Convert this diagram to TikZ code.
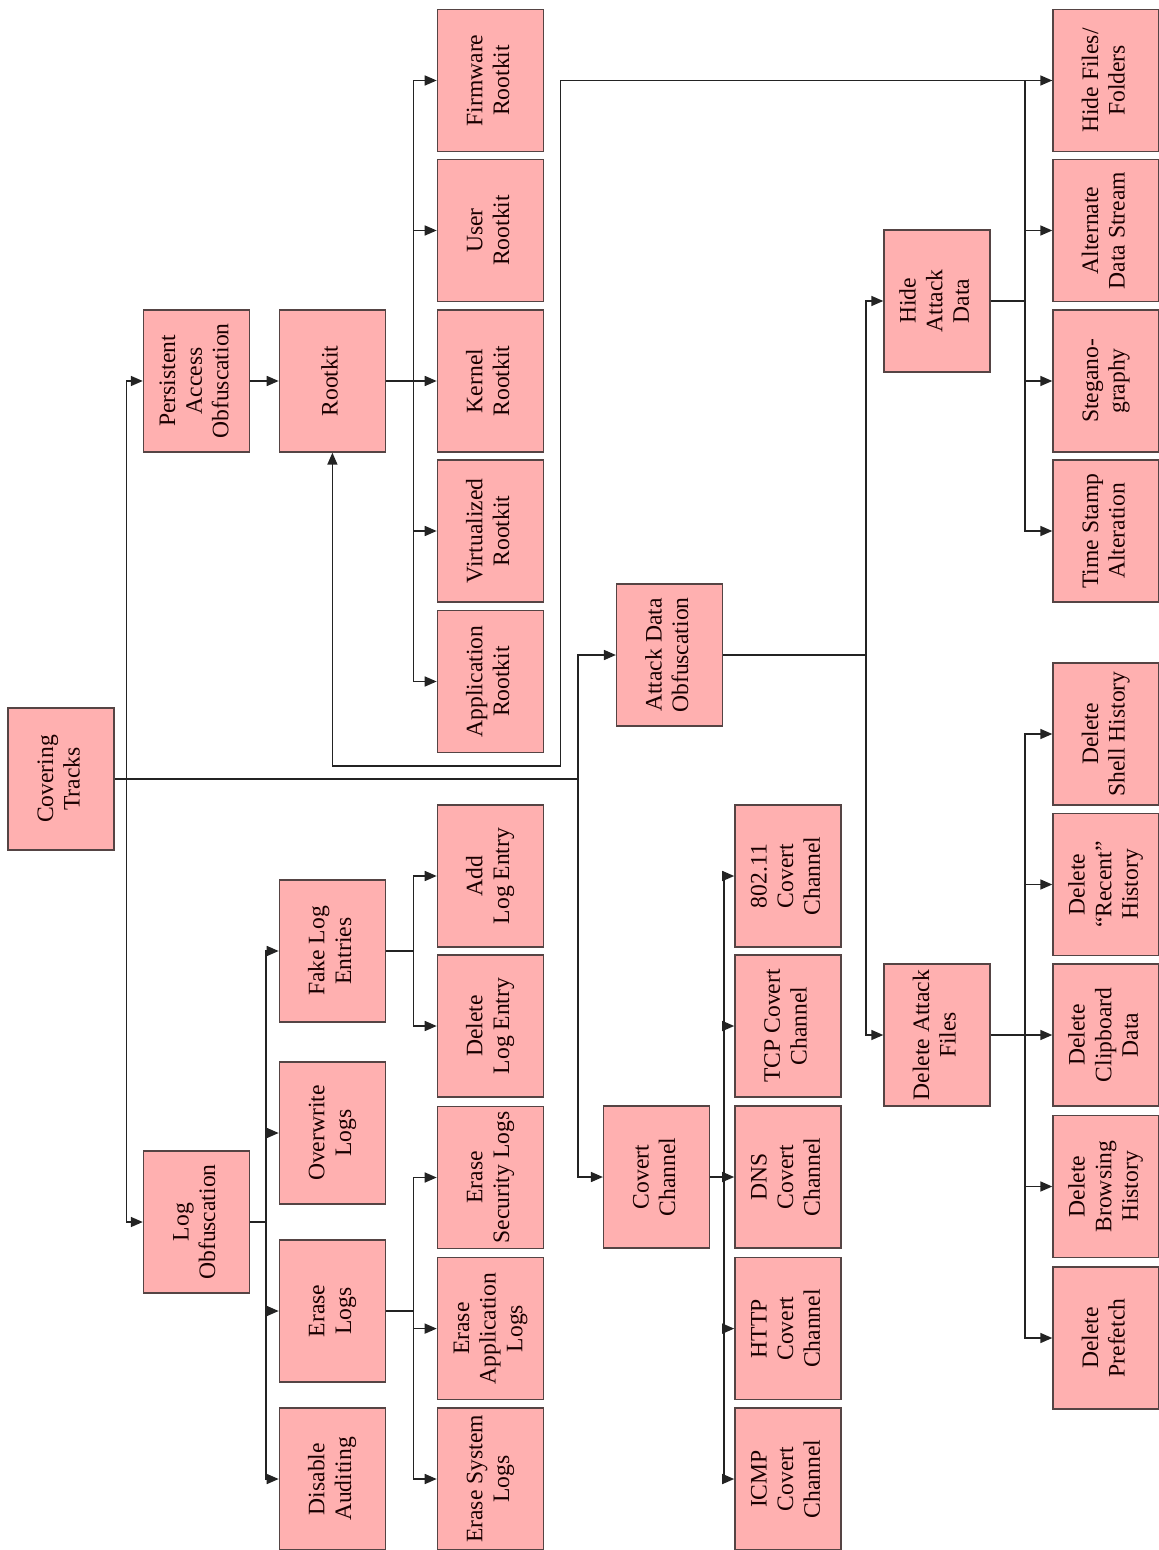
\documentclass[tikz,border=0pt]{standalone}
\usepackage{fontspec}
\setmainfont{Liberation Serif}
\usepackage{graphicx}
\usetikzlibrary{arrows.meta}
\definecolor{boxfill}{RGB}{255,176,176}
\definecolor{boxline}{RGB}{85,68,68}
\definecolor{wire}{RGB}{35,35,35}
\newcommand{\vlabel}[1]{\rotatebox{90}{\begin{tabular}{@{}c@{}}#1\end{tabular}}}

\begin{document}
\begin{tikzpicture}[x=0.5pt, y=-0.5pt,
		every node/.style={font=\fontsize{11.8}{13.3}\selectfont, text=black!90!red},
		box/.style={draw=boxline, fill=boxfill, line width=0.7pt, minimum width=53pt, minimum height=71pt, inner sep=0pt},
		link/.style={draw=wire, line width=0.8pt},
		arr/.style={link, -{Triangle[length=6pt, width=5pt]}}]
		\useasboundingbox (0,0) rectangle (1159,1550);
		% root and first level
		\node[box] (ct) at (61, 779) {\vlabel{Covering\\Tracks}};
		\node[box] (pao) at (196.5, 381) {\vlabel{Persistent\\Access\\Obfuscation}};
		\node[box] (logobf) at (196.5, 1222) {\vlabel{Log\\Obfuscation}};
		\node[box] (ado) at (669.6, 655) {\vlabel{Attack Data\\Obfuscation}};
		\node[box] (cc) at (656.6, 1177) {\vlabel{Covert\\Channel}};
		% rootkit branch
		\node[box] (rootkit) at (332.4, 381) {\vlabel{Rootkit}};
		\node[box] (firmware) at (490.4, 80.5) {\vlabel{Firmware\\Rootkit}};
		\node[box] (user) at (490.4, 230.5) {\vlabel{User\\Rootkit}};
		\node[box] (kernel) at (490.4, 381) {\vlabel{Kernel\\Rootkit}};
		\node[box] (virtual) at (490.4, 531) {\vlabel{Virtualized\\Rootkit}};
		\node[box] (app) at (490.4, 681.5) {\vlabel{Application\\Rootkit}};
		% log branch
		\node[box] (fakelog) at (332.4, 951) {\vlabel{Fake Log\\Entries}};
		\node[box] (overwrite) at (332.4, 1133) {\vlabel{Overwrite\\Logs}};
		\node[box] (eraselogs) at (332.4, 1311) {\vlabel{Erase\\Logs}};
		\node[box] (disable) at (332.4, 1479) {\vlabel{Disable\\Auditing}};
		\node[box] (addlog) at (490.4, 876) {\vlabel{Add\\Log Entry}};
		\node[box] (dellog) at (490.4, 1026) {\vlabel{Delete\\Log Entry}};
		\node[box] (erasesec) at (490.4, 1177.5) {\vlabel{Erase\\Security Logs}};
		\node[box] (eraseapp) at (490.4, 1328.6) {\vlabel{Erase\\Application\\Logs}};
		\node[box] (erasesys) at (490.4, 1479) {\vlabel{Erase System\\Logs}};
		% covert channels
		\node[box] (wifi) at (787.9, 876) {\vlabel{802.11\\Covert\\Channel}};
		\node[box] (tcp) at (787.9, 1026) {\vlabel{TCP Covert\\Channel}};
		\node[box] (dns) at (787.9, 1177) {\vlabel{DNS\\Covert\\Channel}};
		\node[box] (http) at (787.9, 1328.6) {\vlabel{HTTP\\Covert\\Channel}};
		\node[box] (icmp) at (787.9, 1479) {\vlabel{ICMP\\Covert\\Channel}};
		% attack data branch
		\node[box] (had) at (937, 301) {\vlabel{Hide\\Attack\\Data}};
		\node[box] (daf) at (937, 1035) {\vlabel{Delete Attack\\Files}};
		\node[box] (hidefiles) at (1106, 80.5) {\vlabel{Hide Files/\\Folders}};
		\node[box] (ads) at (1106, 230.5) {\vlabel{Alternate\\Data Stream}};
		\node[box] (stego) at (1106, 381) {\vlabel{Stegano-\\graphy}};
		\node[box] (timestamp) at (1106, 531) {\vlabel{Time Stamp\\Alteration}};
		\node[box] (shell) at (1106, 734) {\vlabel{Delete\\Shell History}};
		\node[box] (recent) at (1106, 884.5) {\vlabel{Delete\\``Recent''\\History}};
		\node[box] (clip) at (1106, 1035) {\vlabel{Delete\\Clipboard\\Data}};
		\node[box] (browse) at (1106, 1186.5) {\vlabel{Delete\\Browsing\\History}};
		\node[box] (prefetch) at (1106, 1338) {\vlabel{Delete\\Prefetch}};
		% spines
		\coordinate (ctsplit) at (126.3, 779);
		\coordinate (ctend) at (578, 779);
		\coordinate (rkspine) at (413.3, 381);
		\coordinate (lospine) at (266, 1222);
		\coordinate (flspine) at (413.3, 951);
		\coordinate (elspine) at (413.3, 1311);
		\coordinate (adospine) at (866, 655);
		\coordinate (hadspine) at (1025, 301);
		\coordinate (ccspine) at (723.8, 1177);
		\coordinate (dafspine) at (1025, 1035);
		\coordinate (loop) at (560.6, 766);
		\draw[link] (ct.east) -- (ctend);
		\draw[arr] (ctsplit) |- (pao.west);
		\draw[arr] (ctsplit) |- (logobf.west);
		\draw[arr] (ctend) |- (ado.west);
		\draw[arr] (ctend) |- (cc.west);
		\draw[arr] (pao) -- (rootkit);
		\draw[link] (rootkit.east) -- (rkspine);
		\foreach \n in {firmware, user, kernel, virtual, app}
			\draw[arr] (rkspine) |- (\n.west);
		\draw[link] (logobf.east) -- (lospine);
		\foreach \n in {fakelog, overwrite, eraselogs, disable}
			\draw[arr] (lospine) |- (\n.west);
		\draw[link] (fakelog.east) -- (flspine);
		\foreach \n in {addlog, dellog}
			\draw[arr] (flspine) |- (\n.west);
		\draw[link] (eraselogs.east) -- (elspine);
		\foreach \n in {erasesec, eraseapp, erasesys}
			\draw[arr] (elspine) |- (\n.west);
		\draw[link] (ado.east) -- (adospine);
		\foreach \n in {had, daf}
			\draw[arr] (adospine) |- (\n.west);
		\draw[link] (had.east) -- (hadspine);
		\foreach \n in {hidefiles, ads, stego, timestamp}
			\draw[arr] (hadspine) |- (\n.west);
		\draw[link] (cc.east) -- (ccspine);
		\foreach \n in {wifi, tcp, dns, http, icmp}
			\draw[arr] (ccspine) |- (\n.west);
		\draw[link] (daf.east) -- (dafspine);
		\foreach \n in {shell, recent, clip, browse, prefetch}
			\draw[arr] (dafspine) |- (\n.west);
		% rootkit hides files
		\draw[link, {Triangle[length=6pt, width=5pt]}-] (rootkit.south) |- (loop) |- (hidefiles.west);
	\end{tikzpicture}
\end{document}
